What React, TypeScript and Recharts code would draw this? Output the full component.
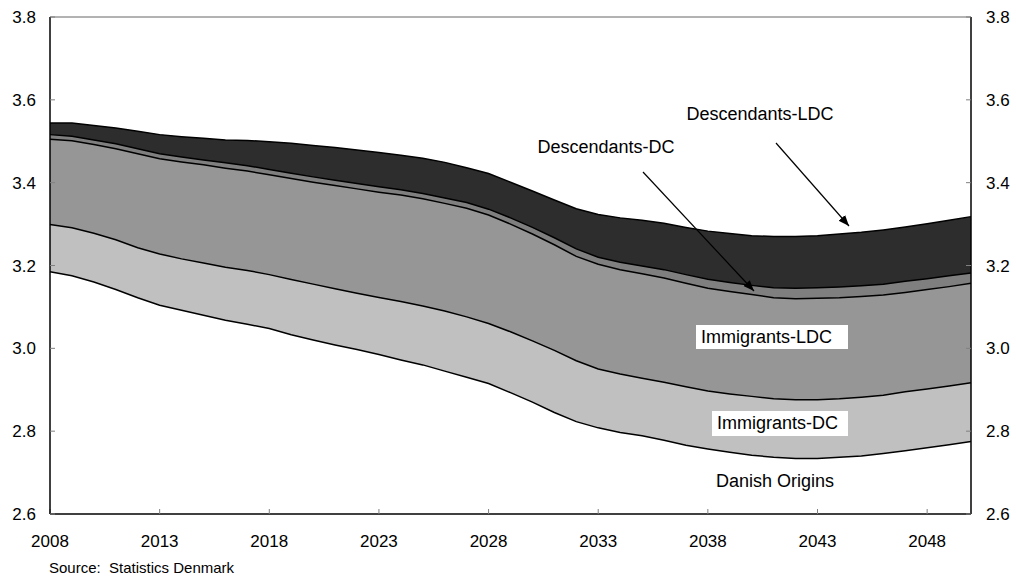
import { AreaChart, Area, XAxis, YAxis, ReferenceLine } from "recharts";

const years = [
  2008, 2009, 2010, 2011, 2012, 2013, 2014, 2015, 2016, 2017, 2018, 2019, 2020, 2021, 2022,
  2023, 2024, 2025, 2026, 2027, 2028, 2029, 2030, 2031, 2032, 2033, 2034, 2035, 2036, 2037,
  2038, 2039, 2040, 2041, 2042, 2043, 2044, 2045, 2046, 2047, 2048, 2049, 2050,
];

// contribution of each group (stacked from Danish Origins up)
const danishOrigins = [
  3.185, 3.175, 3.16, 3.142, 3.122, 3.104, 3.092, 3.08, 3.068, 3.058, 3.048, 3.033, 3.02, 3.008,
  2.997, 2.985, 2.972, 2.96, 2.945, 2.93, 2.915, 2.893, 2.87, 2.845, 2.823, 2.808, 2.797, 2.789,
  2.778, 2.766, 2.757, 2.749, 2.742, 2.737, 2.734, 2.734, 2.737, 2.74, 2.746, 2.753, 2.76, 2.767,
  2.775,
];
const immigrantsDC = [
  0.114, 0.116, 0.118, 0.12, 0.121, 0.124, 0.124, 0.126, 0.128, 0.13, 0.13, 0.133, 0.135, 0.136,
  0.136, 0.138, 0.141, 0.142, 0.145, 0.146, 0.145, 0.147, 0.148, 0.15, 0.147, 0.142, 0.141, 0.139,
  0.14, 0.141, 0.14, 0.141, 0.142, 0.141, 0.142, 0.142, 0.141, 0.142, 0.141, 0.142, 0.142, 0.142,
  0.142,
];
const immigrantsLDC = [
  0.206, 0.21, 0.214, 0.22, 0.227, 0.23, 0.234, 0.237, 0.239, 0.24, 0.241, 0.244, 0.246, 0.249,
  0.252, 0.254, 0.257, 0.259, 0.26, 0.262, 0.262, 0.26, 0.258, 0.255, 0.252, 0.253, 0.252, 0.252,
  0.252, 0.25, 0.248, 0.247, 0.246, 0.244, 0.244, 0.245, 0.244, 0.243, 0.242, 0.24, 0.24, 0.24,
  0.24,
];
const descendantsDC = [
  0.011, 0.011, 0.011, 0.012, 0.012, 0.012, 0.012, 0.012, 0.013, 0.013, 0.013, 0.013, 0.013, 0.013,
  0.013, 0.013, 0.013, 0.013, 0.013, 0.014, 0.014, 0.015, 0.016, 0.017, 0.018, 0.017, 0.018, 0.019,
  0.02, 0.021, 0.022, 0.022, 0.022, 0.024, 0.025, 0.025, 0.026, 0.026, 0.026, 0.027, 0.026, 0.026,
  0.025,
];
const descendantsLDC = [
  0.028, 0.032, 0.035, 0.038, 0.042, 0.046, 0.049, 0.052, 0.055, 0.061, 0.067, 0.072, 0.076, 0.079,
  0.081, 0.083, 0.083, 0.085, 0.086, 0.084, 0.086, 0.086, 0.088, 0.091, 0.097, 0.103, 0.107, 0.11,
  0.112, 0.114, 0.116, 0.118, 0.12, 0.124, 0.125, 0.126, 0.128, 0.129, 0.131, 0.131, 0.133, 0.134,
  0.136,
];

const yearTicks = [2008, 2013, 2018, 2023, 2028, 2033, 2038, 2043, 2048];
const valueTicks = [2.6, 2.8, 3.0, 3.2, 3.4, 3.6, 3.8];

const FONT = '"Liberation Sans", Arial, sans-serif';

// running totals so each band can be painted back to front with its own outline
const chartData = years.map((year, i) => {
  const c1 = danishOrigins[i];
  const c2 = c1 + immigrantsDC[i];
  const c3 = c2 + immigrantsLDC[i];
  const c4 = c3 + descendantsDC[i];
  const c5 = c4 + descendantsLDC[i];
  return { year, c1, c2, c3, c4, c5 };
});

const bands = [
  { key: "c5", name: "Descendants-LDC", fill: "#2d2d2d" },
  { key: "c4", name: "Descendants-DC", fill: "#7f7f7f" },
  { key: "c3", name: "Immigrants-LDC", fill: "#969696" },
  { key: "c2", name: "Immigrants-DC", fill: "#c0c0c0" },
  { key: "c1", name: "Danish Origins", fill: "#ffffff" },
];

const tickStyle = { fill: "#000", fontSize: 17, fontFamily: FONT };

export default function App() {
  return (
    <div style={{ position: "absolute", left: 0, top: 0, width: 1016, height: 576, background: "#fff" }}>
      <AreaChart
        width={1016}
        height={576}
        data={chartData}
        margin={{ top: 17, right: 0, bottom: 0, left: 0 }}
      >
        <XAxis
          dataKey="year"
          type="number"
          domain={[2008, 2050]}
          ticks={yearTicks}
          height={62}
          tickSize={-5}
          tickMargin={26}
          tick={tickStyle}
          tickLine={{ stroke: "#808080" }}
          axisLine={{ stroke: "#000", strokeWidth: 1.5 }}
        />
        <YAxis
          yAxisId="left"
          domain={[2.6, 3.8]}
          ticks={valueTicks}
          allowDataOverflow
          width={50}
          tickSize={-5}
          tickMargin={19}
          tick={tickStyle}
          tickFormatter={(v) => v.toFixed(1)}
          tickLine={{ stroke: "#808080" }}
          axisLine={{ stroke: "#000", strokeWidth: 1.5 }}
        />
        <YAxis
          yAxisId="right"
          orientation="right"
          domain={[2.6, 3.8]}
          ticks={valueTicks}
          allowDataOverflow
          width={45}
          tickSize={-5}
          tickMargin={20}
          tick={{ ...tickStyle, textAnchor: "start" }}
          tickFormatter={(v) => v.toFixed(1)}
          tickLine={{ stroke: "#808080" }}
          axisLine={{ stroke: "#000", strokeWidth: 1.5 }}
        />
        {bands.map((b) => (
          <Area
            key={b.key}
            yAxisId="left"
            type="linear"
            dataKey={b.key}
            name={b.name}
            baseValue="dataMin"
            fill={b.fill}
            fillOpacity={1}
            stroke="#000"
            strokeWidth={1.5}
            dot={false}
            activeDot={false}
            isAnimationActive={false}
          />
        ))}
        <ReferenceLine yAxisId="left" y={3.8} stroke="#666" strokeWidth={1} />
      </AreaChart>

      <svg
        width={1016}
        height={576}
        style={{ position: "absolute", left: 0, top: 0, pointerEvents: "none" }}
        fontFamily={FONT}
      >
        <defs>
          <marker id="head" viewBox="0 0 10 10" refX="10" refY="5" markerWidth="9" markerHeight="9" orient="auto">
            <path d="M0,1 L10,5 L0,9 z" fill="#000" />
          </marker>
        </defs>
        <text x={760} y={120} fontSize={18} textAnchor="middle">Descendants-LDC</text>
        <line x1={776} y1={143} x2={849} y2={226} stroke="#000" strokeWidth={1.2} markerEnd="url(#head)" />
        <text x={606} y={153} fontSize={18} textAnchor="middle">Descendants-DC</text>
        <line x1={643} y1={172} x2={754} y2={291} stroke="#000" strokeWidth={1.2} markerEnd="url(#head)" />

        <rect x={696} y={325} width={152} height={24} fill="#fff" />
        <text x={701} y={343} fontSize={18}>Immigrants-LDC</text>
        <rect x={712} y={411} width={136} height={25} fill="#fff" />
        <text x={717} y={429} fontSize={18}>Immigrants-DC</text>
        <text x={775} y={487} fontSize={18} textAnchor="middle">Danish Origins</text>

        <text x={49} y={573} fontSize={15} xmlSpace="preserve" style={{ whiteSpace: "pre" }}>
          {"Source:  Statistics Denmark"}
        </text>
      </svg>
    </div>
  );
}
